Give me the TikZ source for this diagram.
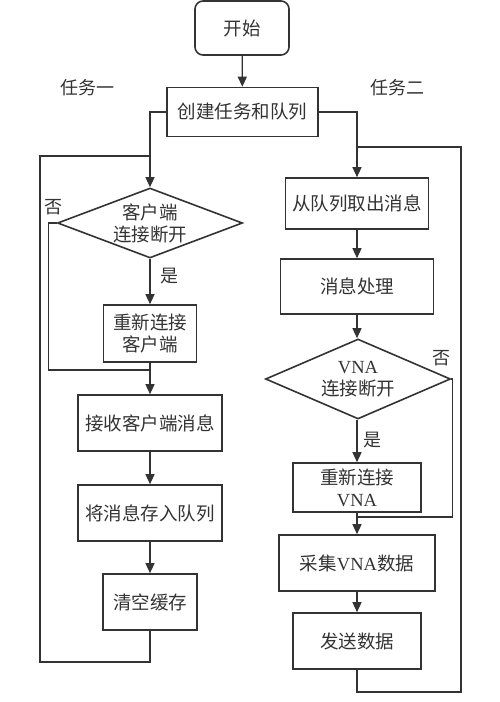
\documentclass[tikz,border=0pt]{standalone}
\usepackage{fontspec}
\setmainfont{Liberation Serif}
\newfontfamily\cjk{Noto Sans CJK SC}
\newfontfamily\lat{Liberation Serif}
\usetikzlibrary{arrows.meta,shapes.geometric}
\definecolor{ln}{HTML}{333333}
\definecolor{tx}{HTML}{333333}
\tikzset{
  box/.style={draw=ln,line width=1.6pt,rectangle,inner sep=0pt,align=center,text=tx,
    font=\cjk\fontsize{18.5}{22}\selectfont},
  dia/.style={draw=ln,line width=1.6pt,diamond,inner sep=0pt},
  dtext/.style={align=center,text=tx,inner sep=0pt,font=\cjk\fontsize{18.5}{22}\selectfont},
  lab/.style={text=tx,inner sep=0pt,font=\cjk\fontsize{18}{20}\selectfont},
  conn/.style={draw=ln,line width=1.3pt},
  arr/.style={conn,-{Triangle[length=10pt,width=9pt]}},
}
\begin{document}
\begin{tikzpicture}[x=1pt,y=-1pt]
\useasboundingbox (0,0) rectangle (500,702);
% top
\node[box,rounded corners=8pt,minimum width=94pt,minimum height=54pt] (start) at (242,28) {开始};
\node[box,minimum width=151pt,minimum height=49pt] (create) at (242.5,112) {创建任务和队列};
\node[lab] (t1) at (87,88) {任务一};
\node[lab] (t2) at (397,88) {任务二};
% left column
\node[dia,minimum width=185pt,minimum height=70pt] (d1) at (150,223) {};
\node[dtext] (d1t) at (d1.center) {客户端\\连接断开};
\node[box,minimum width=93pt,minimum height=57pt] (re1) at (150,333.5) {重新连接\\客户端};
\node[box,minimum width=144pt,minimum height=56pt] (recv) at (150,423) {接收客户端消息};
\node[box,minimum width=144pt,minimum height=56pt] (store) at (150,513) {将消息存入队列};
\node[box,minimum width=94pt,minimum height=56pt] (clr) at (150,602) {清空缓存};
\node[lab] (no1) at (54,207) {否};
\node[lab] (yes1) at (169,276) {是};
% right column
\node[box,minimum width=143pt,minimum height=51pt] (take) at (357,203.5) {从队列取出消息};
\node[box,minimum width=153pt,minimum height=55pt] (proc) at (357,286.5) {消息处理};
\node[dia,minimum width=185pt,minimum height=80pt] (d2) at (358,379) {};
\node[dtext] (d2t) at (d2.center) {{\lat VNA}\\连接断开};
\node[box,minimum width=128pt,minimum height=49pt] (re2) at (357,487.5) {重新连接\\{\lat VNA}};
\node[box,minimum width=156pt,minimum height=56pt] (coll) at (357,563) {采集{\lat VNA}数据};
\node[box,minimum width=128pt,minimum height=56pt] (send) at (357,641) {发送数据};
\node[lab] (no2) at (441,358) {否};
\node[lab] (yes2) at (372,440) {是};
% coordinates
\coordinate (lt) at (40,156);
\coordinate (lb) at (40,662);
\coordinate (lj) at (150,156);
\coordinate (nj1) at (150,370);
\coordinate (rt) at (461,147);
\coordinate (rb) at (461,692);
\coordinate (rj) at (357,147);
\coordinate (nj2) at (357,517);
% connectors
\draw[arr] (start) -- (create);
\draw[arr] (create.west) -| (d1.north);
\draw[arr] (create.east) -| (take.north);
\draw[arr] (d1.south) -- (re1.north);
\draw[conn] (d1.west) -- ++(-8,0) |- (nj1);
\draw[arr] (re1.south) -- (recv.north);
\draw[arr] (recv) -- (store);
\draw[arr] (store) -- (clr);
\draw[conn] (clr.south) |- (lb) -- (lt) -- (lj);
\draw[arr] (take) -- (proc);
\draw[arr] (proc.south) -- (d2.north -| proc.south);
\draw[arr] (d2.south -| re2.north) -- (re2.north);
\draw[conn] (d2.east) -- ++(1,0) |- (nj2);
\draw[arr] (re2.south) -- (coll.north);
\draw[arr] (coll) -- (send);
\draw[conn] (send.south) |- (rb) -- (rt) -- (rj);
\end{tikzpicture}
\end{document}
